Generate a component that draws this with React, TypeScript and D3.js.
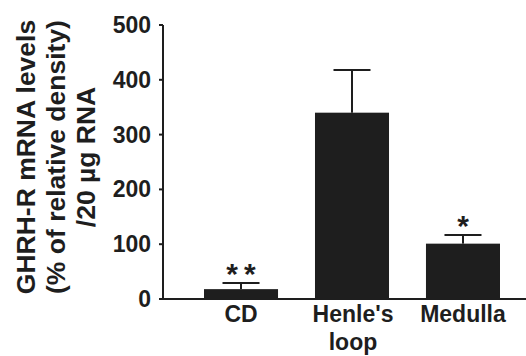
import React from "react";
import * as d3 from "d3";

const categories = ["CD", "Henle's loop", "Medulla"];
const labelLines = [["CD"], ["Henle's", "loop"], ["Medulla"]];
const means = [18, 340, 101];
const errors = [11, 78, 16];
const stars = ["**", "", "*"];
const yTicks = [0, 100, 200, 300, 400, 500];
const yTitle = ["GHRH-R mRNA levels", "(% of relative density)", "/20 \u00b5g RNA"];

const W = 526;
const H = 356;
const ink = "#1e1e1e";
const font = "'Liberation Sans', Arial, Helvetica, sans-serif";

export default function App() {
  const y = d3.scaleLinear().domain([0, 500]).range([299, 25]);
  const x = d3
    .scaleBand<string>()
    .domain(categories)
    .range([185.5, 518.5])
    .paddingInner(0.333)
    .paddingOuter(0.1667);
  const bw = x.bandwidth();
  const capW = bw * 0.5;

  return (
    <svg
      width={W}
      height={H}
      style={{ position: "absolute", left: 0, top: 0, background: "#fff" }}
      fontFamily={font}
      fontWeight="bold"
    >
      <rect width={W} height={H} fill="#fff" />
      {/* y axis title */}
      {yTitle.map((t, i) => (
        <text
          key={t}
          transform={`translate(${26 + i * 30},157) rotate(-90)`}
          textAnchor="middle"
          dominantBaseline="central"
          fontSize={26.5}
          fill={ink}
        >
          {t}
        </text>
      ))}
      {/* y axis */}
      <line x1={163} x2={163} y1={y(500)} y2={y(0)} stroke={ink} strokeWidth={2} />
      {yTicks.map((t) => (
        <g key={t}>
          <line x1={159} x2={163} y1={y(t)} y2={y(t)} stroke={ink} strokeWidth={2} />
          <text
            x={151}
            y={y(t)}
            textAnchor="end"
            dominantBaseline="central"
            fontSize={23}
            fill={ink}
          >
            {t}
          </text>
        </g>
      ))}
      {/* bars */}
      {categories.map((c, i) => {
        const cx = (x(c) as number) + bw / 2;
        const top = y(means[i]);
        const et = y(means[i] + errors[i]);
        return (
          <g key={c}>
            <line x1={cx} x2={cx} y1={top} y2={et} stroke={ink} strokeWidth={2} />
            <line x1={cx - capW / 2} x2={cx + capW / 2} y1={et} y2={et} stroke={ink} strokeWidth={2} />
            <rect x={x(c)} y={top} width={bw} height={y(0) - top} fill={ink} />
            {stars[i] && (
              <text
                x={cx + (stars[i].length > 1 ? 3 : 0)}
                y={et + 1}
                textAnchor="middle"
                fontSize={30}
                letterSpacing={stars[i].length > 1 ? 6 : 0}
                fill={ink}
              >
                {stars[i]}
              </text>
            )}
            {labelLines[i].map((l, j) => (
              <text
                key={l}
                x={cx + (i === 1 ? 1 : 0)}
                y={322 + j * 28}
                textAnchor="middle"
                fontSize={23}
                fill={ink}
              >
                {l}
              </text>
            ))}
          </g>
        );
      })}
      {/* x axis */}
      <line x1={160} x2={526} y1={y(0)} y2={y(0)} stroke={ink} strokeWidth={2} />
    </svg>
  );
}
